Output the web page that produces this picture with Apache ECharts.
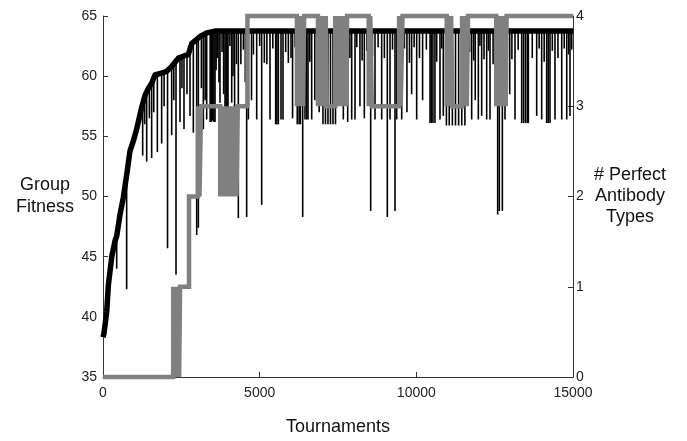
<!DOCTYPE html>
<html>
<head>
<meta charset="utf-8">
<script src="https://cdn.jsdelivr.net/npm/echarts@6/dist/echarts.min.js"></script>
<style>
html,body{margin:0;padding:0;background:#fff;}
#chart{width:687px;height:441px;}
</style>
</head>
<body>
<div id="chart"></div>
<script>
// ---------------- data ----------------
const xTicks = [0, 5000, 10000, 15000];
const leftTicks = [35, 40, 45, 50, 55, 60, 65];
const rightTicks = [0, 1, 2, 3, 4];

// group fitness (upper band of the black trace)
const fitX = [0, 30, 118, 170, 280, 383, 437, 543, 648, 756, 862, 967, 1075, 1234, 1340, 1450, 1553, 1660, 1800, 2032, 2192, 2404, 2600, 2723, 2830, 3096, 3310, 3600, 4200, 5000, 6000, 7000, 8000, 9000, 10000, 11000, 12000, 13000, 14000, 15000];
const fitY = [38.3, 38.6, 40.4, 42.6, 45.0, 46.3, 46.7, 48.5, 49.9, 51.8, 53.8, 54.6, 55.6, 57.4, 58.4, 59.0, 59.4, 60.1, 60.2, 60.4, 60.8, 61.5, 61.7, 61.8, 62.7, 63.3, 63.6, 63.75, 63.75, 63.75, 63.75, 63.75, 63.75, 63.75, 63.75, 63.75, 63.75, 63.75, 63.75, 63.75];

// downward dips while fitness is still rising (x, top, bottom)
const riseSpikeX   = [437, 755, 1266, 1330, 1394, 1480, 1553, 1620, 1735, 1872, 1950, 2060, 2192, 2260, 2330, 2457, 2520, 2585, 2680, 2777, 2883, 2990, 3043, 3140, 3202, 3260, 3309];
const riseSpikeTop = [46.7, 51.8, 57.7, 58.3, 58.4, 59.1, 59.4, 59.9, 60.1, 60.2, 60.3, 60.4, 60.8, 61.0, 61.1, 61.5, 61.6, 61.7, 61.8, 62.2, 62.7, 63.0, 63.1, 63.3, 63.4, 63.5, 63.5];
const riseSpikeLow = [44.0, 42.3, 53.4, 56.0, 52.9, 56.5, 53.2, 57.0, 53.7, 54.4, 57.5, 45.7, 55.1, 58.0, 43.5, 56.2, 59.0, 55.6, 58.5, 56.7, 55.3, 46.8, 47.4, 59.0, 55.6, 58.0, 56.4];

// downward dips from the plateau
const plateauTop = 63.8;
const plateauSpikeX = [
  3420, 3460, 3500, 3540, 3575, 3610, 3650, 3700, 3734, 3800, 3850, 3894, 3930, 3960, 3990, 4050, 4107, 4150, 4200, 4260, 4319, 4400, 4480, 4540, 4585, 4639, 4740,
  4800, 4905, 5000, 5064, 5149, 5230, 5330, 5420, 5511, 5550, 5596, 5681, 5745, 5830, 5915, 6000, 6050, 6130, 6200, 6260, 6300,
  6373, 6447, 6500, 6543, 6600, 6660, 6760, 6820, 6900, 6960, 7020, 7100, 7180, 7260, 7340, 7420, 7500, 7600, 7670, 7750, 7809,
  7880, 7937, 8043, 8100, 8200, 8270, 8340, 8420, 8543, 8600, 8681, 8780, 8894, 8980, 9074, 9160, 9240, 9319, 9373, 9450, 9533,
  9620, 9700, 9780, 9850, 9930, 10011, 10100, 10200, 10320, 10437, 10480, 10530, 10594, 10650, 10755, 10810, 10861, 10960, 11050,
  11150, 11250, 11350, 11450, 11550, 11700, 11766, 11830, 11880, 11979, 12030, 12085, 12160, 12245, 12300, 12351, 12450, 12596,
  12648, 12745, 12830, 12900, 12980, 13050, 13149, 13250, 13362, 13420, 13480, 13540, 13575, 13700, 13841, 13920, 14000, 14080,
  14160, 14210, 14266, 14340, 14425, 14520, 14640, 14720, 14800, 14860, 14904, 14960];
const plateauSpikeLow = [
  56.2, 56.2, 56.3, 56.2, 56.2, 60.5, 61.5, 59.5, 57.8, 62.0, 58.5, 56.7, 56.7, 56.8, 56.7, 62.5, 57.8, 60.0, 57.0, 61.0, 48.2, 61.0, 62.2, 59.5, 48.3, 56.4, 58.0,
  61.8, 56.4, 62.5, 49.3, 61.1, 61.0, 56.4, 62.3, 56.0, 56.0, 56.0, 56.4, 56.4, 62.0, 61.1, 61.5, 56.5, 62.4, 56.0, 56.0, 56.0,
  48.3, 56.4, 56.4, 56.4, 61.2, 56.4, 58.0, 62.5, 57.0, 61.6, 56.0, 56.0, 56.0, 56.0, 56.0, 56.0, 62.0, 61.0, 56.4, 62.3, 56.2,
  61.5, 56.4, 56.4, 62.4, 57.5, 61.3, 56.5, 62.1, 48.8, 61.7, 56.4, 62.4, 56.4, 61.5, 48.3, 56.4, 62.2, 48.8, 56.4, 61.4, 56.4,
  62.3, 57.0, 61.1, 58.5, 62.4, 56.4, 61.5, 58.0, 62.2, 56.1, 56.1, 56.1, 56.1, 61.2, 56.4, 62.3, 56.7, 55.9, 55.9,
  55.9, 55.9, 55.9, 55.9, 55.9, 62.0, 56.4, 61.3, 58.0, 56.4, 62.5, 56.7, 61.4, 56.4, 62.1, 56.4, 61.0, 48.5,
  48.8, 48.8, 56.4, 62.3, 58.5, 61.4, 56.4, 62.2, 56.1, 56.1, 56.1, 56.1, 56.1, 61.5, 56.7, 62.3, 56.4, 61.2,
  56.1, 56.1, 56.1, 62.1, 56.4, 61.5, 56.4, 62.3, 56.4, 61.8, 56.7, 62.2];

// number of perfect antibody types (level changes at x)
const typesX = [0, 2240, 2280, 2320, 2360, 2400, 2430, 2460, 2745, 3030, 3080, 3130,
  3740, 3790, 3830, 3870, 3910, 3950, 3990, 4030, 4070, 4110, 4160, 4210, 4260, 4300, 4610,
  6190, 6240, 6290, 6340, 6380, 6420,
  6860, 6910, 6960, 7010, 7060, 7110, 7140,
  7410, 7460, 7510, 7560, 7610, 7660, 7710, 7760, 7790,
  8480, 8530, 8580, 9450, 9500, 9560,
  10970, 11020, 11070, 11110, 11150, 11460, 11510, 11560, 11610, 11650,
  12550, 12600, 12650, 12700, 12750, 12800, 12850, 12880, 15000];
const typesN = [0, 1, 0, 1, 0, 1, 0, 1, 2, 3, 2, 3,
  2, 3, 2, 3, 2, 3, 2, 3, 2, 3, 2, 3, 2, 3, 4,
  3, 4, 3, 4, 3, 4,
  3, 4, 3, 4, 3, 4, 3,
  4, 3, 4, 3, 4, 3, 4, 3, 4,
  3, 4, 3, 4, 3, 4,
  3, 4, 3, 4, 3, 4, 3, 4, 3, 4,
  3, 4, 3, 4, 3, 4, 3, 4, 4];

// ---------------- build ----------------
const fitData = fitX.map((x, i) => [x, fitY[i]]);
const spikeData = riseSpikeX.map((x, i) => [x, riseSpikeTop[i], riseSpikeLow[i]])
  .concat(plateauSpikeX.map((x, i) => [x, plateauTop, plateauSpikeLow[i]]));
const typesData = typesX.map((x, i) => [x, typesN[i]]);

const FONT = '"Liberation Sans", Arial, Helvetica, sans-serif';
const axisCol = '#333';

const chart = echarts.init(document.getElementById('chart'), null, {renderer: 'canvas'});
chart.setOption({
  animation: false,
  backgroundColor: '#fff',
  grid: {left: 103, right: 114, top: 16, bottom: 61, containLabel: false},
  xAxis: {
    type: 'value',
    min: xTicks[0], max: xTicks[xTicks.length - 1], interval: xTicks[1] - xTicks[0],
    name: 'Tournaments', nameLocation: 'middle', nameGap: 50,
    nameTextStyle: {fontFamily: FONT, fontSize: 18, color: '#111', verticalAlign: 'middle'},
    axisLine: {show: true, onZero: false, lineStyle: {color: axisCol, width: 1}},
    axisTick: {show: true, inside: true, length: 5, lineStyle: {color: axisCol}},
    axisLabel: {fontFamily: FONT, fontSize: 14, color: '#222', margin: 9, formatter: v => String(v)},
    splitLine: {show: false}
  },
  yAxis: [{
    type: 'value', position: 'left',
    min: leftTicks[0], max: leftTicks[leftTicks.length - 1], interval: leftTicks[1] - leftTicks[0],
    name: 'Group\nFitness', nameLocation: 'middle', nameGap: 58, nameRotate: 0,
    nameTextStyle: {fontFamily: FONT, fontSize: 18, color: '#111', align: 'center', verticalAlign: 'middle', lineHeight: 22},
    axisLine: {show: true, onZero: false, lineStyle: {color: axisCol, width: 1}},
    axisTick: {show: true, inside: true, length: 5, lineStyle: {color: axisCol}},
    axisLabel: {fontFamily: FONT, fontSize: 14, color: '#222', margin: 6},
    splitLine: {show: false}
  }, {
    type: 'value', position: 'right',
    min: rightTicks[0], max: rightTicks[rightTicks.length - 1], interval: rightTicks[1] - rightTicks[0],
    name: '# Perfect\nAntibody\nTypes', nameLocation: 'middle', nameGap: 57, nameRotate: 0,
    nameTextStyle: {fontFamily: FONT, fontSize: 18, color: '#111', align: 'center', verticalAlign: 'middle', lineHeight: 21},
    axisLine: {show: true, onZero: false, lineStyle: {color: axisCol, width: 1}},
    axisTick: {show: true, inside: true, length: 5, lineStyle: {color: axisCol}},
    axisLabel: {fontFamily: FONT, fontSize: 14, color: '#222', margin: 3},
    splitLine: {show: false}
  }],
  series: [{
    type: 'custom',
    name: 'dips',
    xAxisIndex: 0, yAxisIndex: 0,
    encode: {x: 0, y: [1, 2]},
    data: spikeData,
    z: 1,
    renderItem: function (params, api) {
      const a = api.coord([api.value(0), api.value(1)]);
      const b = api.coord([api.value(0), api.value(2)]);
      return {type: 'line', shape: {x1: a[0], y1: a[1], x2: b[0], y2: b[1]},
        style: {stroke: '#000', lineWidth: 1.6}};
    }
  }, {
    type: 'line',
    name: 'Group Fitness',
    xAxisIndex: 0, yAxisIndex: 0,
    data: fitData,
    showSymbol: false, symbol: 'none',
    z: 2,
    lineStyle: {color: '#000', width: 5.5, join: 'round'}
  }, {
    type: 'line',
    name: 'Perfect Antibody Types',
    xAxisIndex: 0, yAxisIndex: 1,
    data: typesData,
    step: 'end',
    showSymbol: false, symbol: 'none',
    clip: false,
    z: 10,
    lineStyle: {color: '#808080', width: 4.5, join: 'miter', cap: 'butt'}
  }]
});
</script>
</body>
</html>
